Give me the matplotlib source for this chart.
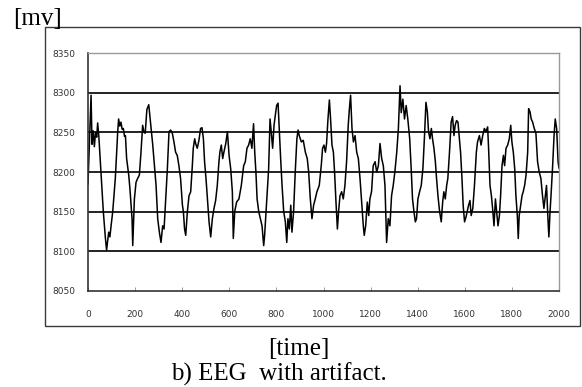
import matplotlib
matplotlib.use("Agg")
import matplotlib.pyplot as plt
from matplotlib.patches import Rectangle

# ---- data ----
time_pts = [0, 4, 9, 13, 17, 22, 27, 32, 37, 41, 46, 55, 65, 74, 79, 83, 88, 93, 98, 105,
            116, 126, 130, 135, 140, 145, 150, 155, 159, 164, 173, 178, 187, 190, 197, 204,
            211, 218, 225, 232, 238, 243, 250, 258, 263, 267, 275, 289, 296, 303, 310, 317,
            323, 330, 337, 344, 351, 358, 365, 372, 379, 386, 393, 401, 405, 410, 415, 422,
            429, 436, 443, 447, 453, 457, 464, 471, 478, 484, 490, 495, 501, 507, 514, 521,
            528, 535, 542, 549, 556, 560, 566, 572, 577, 585, 592, 599, 606, 613, 617, 623,
            631, 641, 651, 661, 668, 675, 682, 689, 696, 703, 708, 713, 718, 725, 732, 739,
            746, 750, 756, 761, 767, 773, 778, 784, 790, 795, 801, 807, 812, 818, 824, 831,
            838, 844, 849, 855, 861, 866, 873, 880, 887, 892, 897, 906, 914, 923, 931, 937,
            944, 951, 958, 965, 972, 982, 991, 996, 1002, 1008, 1013, 1019, 1025, 1030, 1036,
            1042, 1047, 1053, 1059, 1064, 1070, 1077, 1084, 1091, 1098, 1105, 1110, 1115, 1121,
            1127, 1134, 1141, 1148, 1155, 1162, 1169, 1173, 1179, 1186, 1192, 1197, 1204, 1211,
            1219, 1226, 1233, 1240, 1247, 1254, 1261, 1268, 1275, 1282, 1289, 1296, 1303, 1311,
            1318, 1325, 1330, 1337, 1344, 1351, 1358, 1366, 1373, 1378, 1384, 1390, 1395, 1401,
            1408, 1415, 1422, 1429, 1435, 1441, 1446, 1452, 1458, 1463, 1469, 1475, 1480, 1486,
            1493, 1500, 1506, 1511, 1517, 1523, 1528, 1535, 1542, 1548, 1554, 1559, 1565, 1571,
            1576, 1582, 1588, 1593, 1599, 1605, 1610, 1616, 1622, 1627, 1634, 1641, 1649, 1654,
            1662, 1669, 1676, 1683, 1690, 1697, 1701, 1707, 1713, 1718, 1724, 1730, 1735, 1741,
            1747, 1752, 1758, 1764, 1769, 1775, 1782, 1789, 1795, 1800, 1806, 1812, 1817, 1823,
            1827, 1831, 1837, 1843, 1848, 1854, 1860, 1867, 1871, 1877, 1882, 1888, 1895, 1902,
            1909, 1916, 1923, 1930, 1936, 1942, 1947, 1953, 1957, 1962, 1967, 1973, 1979, 1984,
            1990, 1996, 2000]

mv_values = [8185, 8220, 8260, 8297, 8235, 8252, 8232, 8250, 8244, 8262, 8245, 8200, 8150, 8116,
             8101, 8112, 8124, 8118, 8132, 8150, 8192, 8250, 8267, 8258, 8263, 8254, 8255, 8245,
             8246, 8217, 8196, 8179, 8141, 8107, 8166, 8187, 8192, 8196, 8225, 8259, 8250, 8249,
             8279, 8285, 8270, 8259, 8234, 8183, 8141, 8124, 8111, 8132, 8128, 8166, 8204, 8251,
             8253, 8249, 8238, 8225, 8221, 8208, 8192, 8158, 8150, 8128, 8120, 8150, 8170, 8175,
             8208, 8230, 8242, 8236, 8230, 8240, 8255, 8256, 8242, 8213, 8192, 8166, 8137, 8118,
             8141, 8154, 8164, 8183, 8213, 8225, 8234, 8217, 8225, 8236, 8251, 8221, 8204, 8175,
             8116, 8150, 8162, 8166, 8183, 8208, 8213, 8230, 8234, 8242, 8230, 8261, 8225, 8200,
             8166, 8150, 8141, 8132, 8107, 8120, 8150, 8175, 8204, 8267, 8251, 8230, 8259, 8271,
             8284, 8287, 8255, 8217, 8183, 8150, 8137, 8111, 8141, 8128, 8158, 8124, 8150, 8200,
             8242, 8253, 8246, 8238, 8240, 8225, 8217, 8200, 8166, 8141, 8158, 8166, 8175, 8183,
             8210, 8230, 8234, 8225, 8236, 8267, 8291, 8267, 8234, 8225, 8200, 8162, 8128, 8150,
             8170, 8175, 8166, 8183, 8213, 8259, 8280, 8297, 8255, 8238, 8246, 8225, 8217, 8192,
             8162, 8132, 8120, 8132, 8162, 8145, 8166, 8175, 8208, 8213, 8200, 8208, 8236, 8217,
             8208, 8183, 8111, 8141, 8132, 8170, 8183, 8200, 8225, 8255, 8309, 8275, 8292, 8267,
             8284, 8267, 8242, 8200, 8166, 8150, 8137, 8141, 8166, 8175, 8183, 8204, 8246, 8288,
             8276, 8251, 8242, 8255, 8242, 8230, 8213, 8192, 8170, 8150, 8137, 8162, 8175, 8166,
             8183, 8192, 8225, 8263, 8270, 8246, 8259, 8265, 8263, 8246, 8225, 8192, 8158, 8137,
             8143, 8150, 8158, 8164, 8145, 8154, 8183, 8225, 8238, 8246, 8234, 8246, 8255, 8251,
             8257, 8230, 8183, 8170, 8154, 8132, 8166, 8150, 8132, 8145, 8170, 8208, 8221, 8208,
             8230, 8234, 8242, 8259, 8238, 8225, 8204, 8170, 8145, 8116, 8145, 8158, 8170, 8175,
             8183, 8196, 8225, 8280, 8276, 8267, 8263, 8255, 8249, 8213, 8200, 8192, 8170, 8154,
             8170, 8183, 8141, 8118, 8150, 8175, 8208, 8246, 8267, 8255, 8213, 8205]

x_ticks = [0, 200, 400, 600, 800, 1000, 1200, 1400, 1600, 1800, 2000]
y_ticks = [8050, 8100, 8150, 8200, 8250, 8300, 8350]
grid_levels = [8100, 8150, 8200, 8250, 8300]

W, H = 582, 387
fig = plt.figure(figsize=(W / 100, H / 100), dpi=100)
fig.patch.set_facecolor("white")

# outer chart-area frame
fig.patches.append(Rectangle((44.5 / W, 1 - 326 / H), (580 - 44.5) / W, (326 - 26.7) / H,
                             transform=fig.transFigure, fill=False,
                             edgecolor="#3a3a3a", linewidth=1.0))

ax = fig.add_axes([88 / W, 1 - 290.7 / H, 471 / W, 237.4 / H])
ax.plot(time_pts, mv_values, color="black", linewidth=1.1)
for g in grid_levels:
    ax.axhline(g, color="#222222", linewidth=1.4, zorder=0)

ax.set_xlim(0, 2000)
ax.set_ylim(8050, 8350)
ax.set_xticks(x_ticks)
ax.set_yticks(y_ticks)
ax.set_xticklabels([str(v) for v in x_ticks])
ax.set_yticklabels([str(v) for v in y_ticks])
ax.tick_params(axis="x", direction="in", length=3, width=0.6, color="#888888",
               pad=14, labelsize=6.5, labelcolor="#333333")
ax.tick_params(axis="y", length=0, pad=9, labelsize=6.5, labelcolor="#333333")
for s in ["top", "right"]:
    ax.spines[s].set_color("#999999")
    ax.spines[s].set_linewidth(1.0)
for s in ["left", "bottom"]:
    ax.spines[s].set_color("#333333")
    ax.spines[s].set_linewidth(1.2)

serif = ["Liberation Serif", "DejaVu Serif"]
fig.text(13 / W, 1 - 19 / H, "[mv]", family=serif, fontsize=18, ha="left", va="center")
fig.text(298.5 / W, 1 - 349 / H, "[time]", family=serif, fontsize=18, ha="center", va="center")
fig.text(278.5 / W, 1 - 374 / H, "b) EEG  with artifact.", family=serif, fontsize=18,
         ha="center", va="center")

fig.savefig("out.png", dpi=100)
